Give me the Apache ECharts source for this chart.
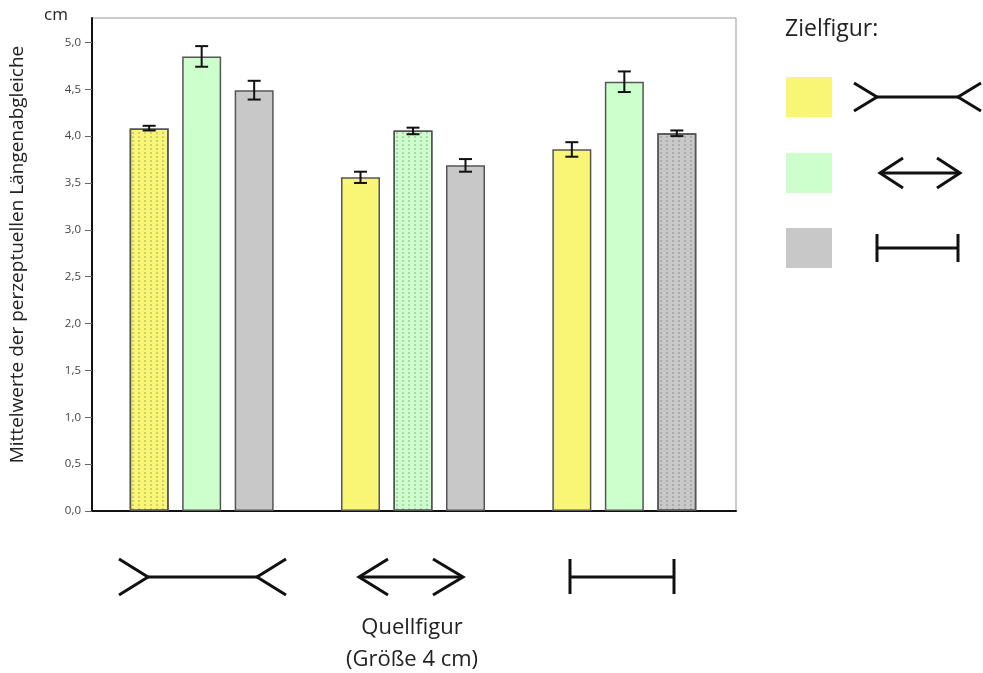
<!DOCTYPE html>
<html><head><meta charset="utf-8">
<script src="https://cdn.jsdelivr.net/npm/echarts@6/dist/echarts.min.js"></script>
<style>html,body{margin:0;padding:0;background:#fff}#c{width:983px;height:673px}</style>
</head><body><div id="c"></div>
<script>
// Categories: Quellfigur (source figure) 1..3
const categories = ['Pfeil außen', 'Pfeil innen', 'Balken'];
// Means per Zielfigur (target figure)
const yellowMeans = [4.08, 3.56, 3.86];
const greenMeans  = [4.85, 4.06, 4.58];
const grayMeans   = [4.49, 3.69, 4.03];
// Error bar lows / highs
const yellowLow  = [4.06, 3.50, 3.78];
const yellowHigh = [4.11, 3.62, 3.935];
const greenLow   = [4.74, 4.02, 4.47];
const greenHigh  = [4.96, 4.09, 4.69];
const grayLow    = [4.39, 3.62, 4.00];
const grayHigh   = [4.59, 3.755, 4.06];
// which bar in each series carries the dotted pattern
const dottedIndex = [0, 1, 2];
const yTicksMax = 5.26, yInterval = 0.5;

const FONT = '"Open Sans", "Noto Sans", sans-serif';
const colors = ['#f9f675', '#ccffcc', '#c8c8c8'];
const BAR_W = 39, BAR_GAP = 13.5;

const decal = {symbol: 'rect', symbolSize: 0.7, dashArrayX: [[1.5, 3.5]], dashArrayY: [1.5, 2], color: 'rgba(60,60,60,0.4)'};

function barData(means, idx) {
  return means.map((v, i) => i === idx ? {value: v, itemStyle: {decal: decal}} : v);
}
function errData(low, high) {
  return low.map((l, i) => [i, l, high[i]]);
}
function errSeries(low, high, k) {
  return {
    type: 'custom', xAxisIndex: 1, yAxisIndex: 1, z: 10,
    data: errData(low, high),
    renderItem: function (params, api) {
      const off = (k - 1) * (BAR_W + BAR_GAP);
      const p1 = api.coord([api.value(0), api.value(1)]);
      const p2 = api.coord([api.value(0), api.value(2)]);
      const x = p1[0] + off, hw = 6.5;
      const st = {stroke: '#111', lineWidth: 2};
      return {type: 'group', children: [
        {type: 'line', shape: {x1: x, y1: p1[1], x2: x, y2: p2[1]}, style: st},
        {type: 'line', shape: {x1: x - hw, y1: p1[1], x2: x + hw, y2: p1[1]}, style: st},
        {type: 'line', shape: {x1: x - hw, y1: p2[1], x2: x + hw, y2: p2[1]}, style: st}
      ]};
    }
  };
}

const ln = {stroke: '#111', lineWidth: 3, lineCap: 'butt', lineJoin: 'miter'};
function poly(points) { return {type: 'polyline', shape: {points: points}, style: ln, z: 20}; }
function line(x1, y1, x2, y2) { return {type: 'line', shape: {x1, y1, x2, y2}, style: ln, z: 20}; }

const graphics = [
  {type: 'text', left: 44, top: 7, style: {text: 'cm', font: '17px ' + FONT, fill: '#222'}},
  {type: 'text', left: 785, top: 18, style: {text: 'Zielfigur:', font: '23px ' + FONT, fill: '#222'}},
  {type: 'rect', shape: {x: 786, y: 77, width: 46, height: 40}, style: {fill: colors[0]}},
  {type: 'rect', shape: {x: 786, y: 153, width: 46, height: 40}, style: {fill: colors[1]}},
  {type: 'rect', shape: {x: 786, y: 228, width: 46, height: 40}, style: {fill: colors[2]}},
  // legend figure 1: >---<
  poly([[854, 83], [877, 97], [854, 111]]), line(877, 97, 958, 97), poly([[981, 83], [958, 97], [981, 111]]),
  // legend figure 2: <-->
  poly([[903, 158], [880, 173], [903, 188]]), line(880, 173, 960, 173), poly([[937, 158], [960, 173], [937, 188]]),
  // legend figure 3: |--|
  line(877, 234, 877, 262), line(877, 248, 958, 248), line(958, 234, 958, 262),
  // x figures
  poly([[119, 559], [148, 577], [119, 595]]), line(148, 577, 257, 577), poly([[286, 559], [257, 577], [286, 595]]),
  poly([[388, 559], [359, 577], [388, 595]]), line(359, 577, 463, 577), poly([[433, 559], [463, 577], [433, 595]]),
  line(570, 559, 570, 594), line(570, 577, 674, 577), line(674, 559, 674, 594),
  {type: 'text', x: 412, y: 628, style: {text: 'Quellfigur', font: '22px ' + FONT, fill: '#222', align: 'center', verticalAlign: 'middle'}},
  {type: 'text', x: 412, y: 660, style: {text: '(Größe 4 cm)', font: '22px ' + FONT, fill: '#222', align: 'center', verticalAlign: 'middle'}}
];

const chart = echarts.init(document.getElementById('c'));
chart.setOption({
  animation: false,
  backgroundColor: '#fff',
  grid: [
    {left: 92, right: 247, top: 18, bottom: 162, show: true, borderColor: '#999', borderWidth: 1, backgroundColor: 'transparent'},
    {left: 96, right: 253, top: 18, bottom: 162}
  ],
  xAxis: [
    {gridIndex: 0, type: 'category', data: [''], axisLine: {lineStyle: {color: '#111', width: 2}}, axisTick: {show: false}, axisLabel: {show: false}},
    {gridIndex: 1, type: 'category', data: categories, show: false}
  ],
  yAxis: [
    {gridIndex: 0, type: 'value', min: 0, max: yTicksMax, interval: yInterval,
     name: 'Mittelwerte der perzeptuellen Längenabgleiche', nameLocation: 'middle', nameGap: 65,
     nameTextStyle: {fontFamily: FONT, fontSize: 19, color: '#222', padding: [0, 0, 0, 20]},
     axisLine: {show: true, lineStyle: {color: '#111', width: 2}},
     axisTick: {show: true, length: 7, lineStyle: {color: '#666', width: 1}},
     splitLine: {show: false},
     axisLabel: {fontFamily: FONT, fontSize: 11.5, color: '#444', margin: 11, showMaxLabel: false,
                 formatter: v => v.toFixed(1).replace('.', ',')}},
    {gridIndex: 1, type: 'value', min: 0, max: yTicksMax, show: false}
  ],
  series: [
    {type: 'bar', xAxisIndex: 1, yAxisIndex: 1, barWidth: BAR_W, barGap: (BAR_GAP / BAR_W * 100) + '%',
     data: barData(yellowMeans, dottedIndex[0]), itemStyle: {color: colors[0], borderColor: '#555', borderWidth: 1.5}},
    {type: 'bar', xAxisIndex: 1, yAxisIndex: 1, barWidth: BAR_W, barGap: (BAR_GAP / BAR_W * 100) + '%',
     data: barData(greenMeans, dottedIndex[1]), itemStyle: {color: colors[1], borderColor: '#555', borderWidth: 1.5}},
    {type: 'bar', xAxisIndex: 1, yAxisIndex: 1, barWidth: BAR_W, barGap: (BAR_GAP / BAR_W * 100) + '%',
     data: barData(grayMeans, dottedIndex[2]), itemStyle: {color: colors[2], borderColor: '#555', borderWidth: 1.5}},
    errSeries(yellowLow, yellowHigh, 0),
    errSeries(greenLow, greenHigh, 1),
    errSeries(grayLow, grayHigh, 2)
  ],
  graphic: graphics
});
</script></body></html>
